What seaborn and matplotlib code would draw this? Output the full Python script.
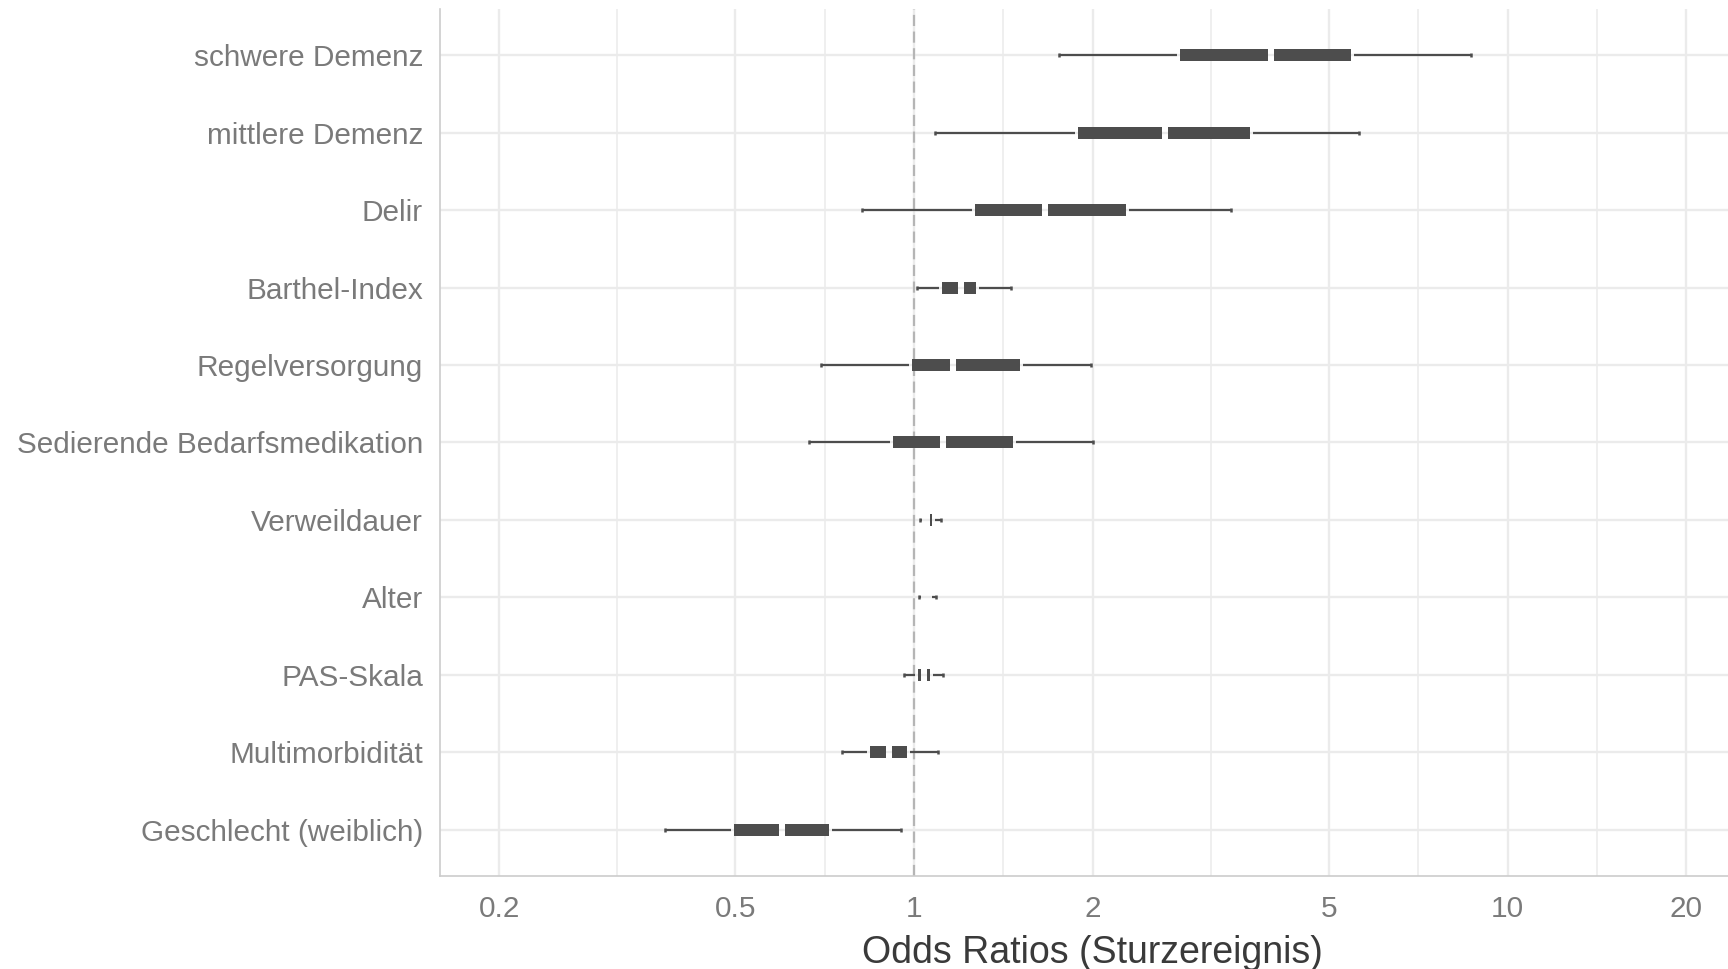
import numpy as np
import pandas as pd
import matplotlib
matplotlib.use("Agg")
import matplotlib.pyplot as plt
from matplotlib.ticker import FixedLocator, NullFormatter
import seaborn as sns

#%% Daten (Odds Ratios, von oben nach unten)

terms = ["schwere Demenz", "mittlere Demenz", "Delir", "Barthel-Index", "Regelversorgung",
         "Sedierende Bedarfsmedikation", "Verweildauer", "Alter", "PAS-Skala",
         "Multimorbidität", "Geschlecht (weiblich)"]
estimate = [3.99, 2.65, 1.66, 1.20, 1.164, 1.121, 1.052, 1.049, 1.038, 0.906, 0.600]
ci_low = [1.754, 1.084, 0.818, 1.012, 0.698, 0.666, 1.025, 1.018, 0.961, 0.757, 0.381]
ci_high = [8.68, 5.62, 3.415, 1.454, 1.984, 2.001, 1.111, 1.091, 1.120, 1.098, 0.949]
inner_low = [2.803, 1.886, 1.265, 1.114, 0.991, 0.922, 1.045, 1.038, 1.014, 0.843, 0.497]
inner_high = [5.44, 3.678, 2.275, 1.274, 1.506, 1.467, 1.072, 1.060, 1.063, 0.975, 0.718]

x_ticks = [0.2, 0.5, 1, 2, 5, 10, 20]
x_ticklabels = ["0.2", "0.5", "1", "2", "5", "10", "20"]

df = pd.DataFrame(dict(term=terms, est=estimate, lo=ci_low, hi=ci_high,
                       in_lo=inner_low, in_hi=inner_high))
df["y"] = np.arange(len(df))[::-1]

#%% Stil

sns.set_theme(style="whitegrid")
plt.rcParams['font.family'] = ['Liberation Sans', 'DejaVu Sans']

bar_col = "#4d4d4d"
gap = 10 ** (3 / 593)      # kleine Lücke (~3 px) zwischen den Teilen

fig = plt.figure(figsize=(17.28, 9.69), dpi=100)
ax = fig.add_axes([0.2545, 0.096, 1.0102 - 0.2545, 0.9907 - 0.096])
ax.set_xscale('log')

# dünne Linien (95%-KI)
ax.hlines(df.y, df.lo, df.in_lo / gap, color=bar_col, lw=1.6, zorder=3)
ax.hlines(df.y, df.in_hi * gap, df.hi, color=bar_col, lw=1.6, zorder=3)

# dicke Balken, mit Lücke am Schätzer
l1 = df.in_lo
r1 = np.maximum(df.est / gap, df.in_lo)
l2 = np.minimum(df.est * gap, df.in_hi)
r2 = df.in_hi
ax.barh(df.y, r1 - l1, left=l1, height=0.155, color=bar_col, linewidth=0, zorder=4)
ax.barh(df.y, r2 - l2, left=l2, height=0.155, color=bar_col, linewidth=0, zorder=4)

# Endmarken
sns.scatterplot(x=np.r_[df.lo, df.hi], y=np.r_[df.y, df.y], marker='|', s=9,
                color=bar_col, linewidth=1.8, ax=ax, zorder=5, legend=False)

ax.axvline(1, color="#b5b5b5", lw=1.6, ls=(0, (5, 2.5)), zorder=2)

#%% Achsen

lo_log, hi_log = np.log10(0.2), np.log10(20)
pad = 0.05 * (hi_log - lo_log)
ax.set_xlim(10 ** (lo_log - pad), 10 ** (hi_log + pad))
ax.set_ylim(-0.6, len(df) - 0.4)

ax.xaxis.set_major_locator(FixedLocator(x_ticks))
ax.set_xticklabels(x_ticklabels)
mids = np.sqrt(np.array(x_ticks[:-1]) * np.array(x_ticks[1:]))
ax.xaxis.set_minor_locator(FixedLocator(mids))
ax.xaxis.set_minor_formatter(NullFormatter())
ax.set_yticks(df.y)
ax.set_yticklabels(df.term)

ax.grid(which='major', color='#ebebeb', lw=1.7)
ax.grid(which='minor', axis='x', color='#ebebeb', lw=1.1)
ax.set_axisbelow(True)

sns.despine(ax=ax)
for s in ["left", "bottom"]:
    ax.spines[s].set_color("#cccccc")
    ax.spines[s].set_linewidth(1.2)

ax.tick_params(axis='both', which='both', length=0, labelsize=21.4, labelcolor="#7a7a7a")
ax.tick_params(axis='y', pad=12)
ax.tick_params(axis='x', pad=14)
ax.set_xlabel("Odds Ratios (Sturzereignis)", fontsize=27, color="#3a3a3a", labelpad=8)
ax.set_ylabel("")

fig.savefig("out.png", dpi=100, facecolor="white")
